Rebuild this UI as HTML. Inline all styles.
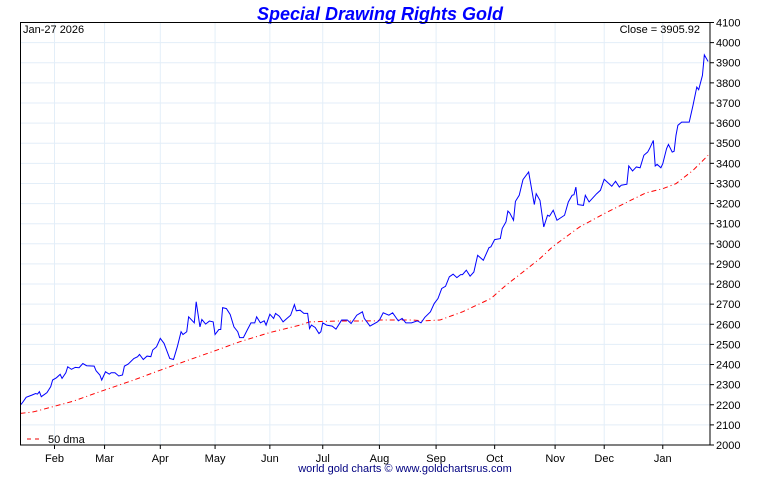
<!DOCTYPE html>
<html><head><meta charset="utf-8"><style>
body{margin:0;background:#fff;}
svg text{font-family:"Liberation Sans",sans-serif;}
</style></head><body>
<svg id="chart" width="760" height="475" xmlns="http://www.w3.org/2000/svg">
<rect width="760" height="475" fill="#fff"/>
<text x="380" y="20" text-anchor="middle" font-size="18" font-weight="bold" font-style="italic" fill="#0000ff">Special Drawing Rights Gold</text>
<g id="grid"></g>
<g id="series"></g>
<rect x="20.5" y="22.5" width="689.5" height="422.5" fill="none" stroke="#000" stroke-width="1"/>
<g id="axes"></g>
<text x="23" y="33" font-size="11" fill="#000">Jan-27  2026</text>
<text x="700" y="33" font-size="11" text-anchor="end" fill="#000">Close = 3905.92</text>
<g>
<line x1="27" y1="439" x2="42" y2="439" stroke="#e00" stroke-dasharray="4,4"/>
<text x="48" y="443" font-size="11">50 dma</text>
</g>
<text x="405" y="472" text-anchor="middle" font-size="11" fill="#000080">world gold charts © www.goldchartsrus.com</text>
</svg>
<script>
const priceDays=[0,1,3,6,8,9,10,11,14,16,17,19,21,22,24,25,27,29,31,33,35,39,40,42,43,45,47,48,50,52,54,55,57,60,62,63,65,67,69,70,72,74,76,77,79,81,83,85,86,88,89,92,93,95,96,98,100,102,103,105,106,107,109,111,113,115,116,118,120,122,124,125,127,129,130,132,134,135,137,139,141,143,145,146,148,150,152,153,154,156,158,159,160,162,165,167,170,173,175,178,181,182,185,189,
190,192,195,197,200,202,204,207,210,212,214,217,219,221,223,225,227,229,231,233,234,236,238,240,242,245,248,249,251,254,255,257,258,259,261,262,264,266,269,272,273,275,277,279,280,282,284,288,290,292,293,294,295,298,299,301,305,307,309,313,315,317,318,321,322,324,326,328,330,332,333,335,336,337,339,340,342,343,345,346,347,348,350,354,356,358,359,361,362,364];
const priceValues=[2199,2210,2237,2248,2256,2253,2265,2240,2260,2290,2323,2334,2351,2331,2359,2389,2376,2386,2384,2405,2394,2392,2369,2348,2323,2364,2352,2359,2359,2343,2348,2392,2402,2430,2439,2450,2425,2442,2439,2472,2488,2530,2505,2480,2430,2425,2488,2563,2549,2563,2637,2607,2712,2587,2624,2601,2616,2612,2549,2574,2574,2683,2678,2649,2587,2563,2534,2534,2571,2607,2607,2637,2607,2617,2596,2650,2629,2654,2640,2612,2629,2645,2698,2667,2670,2654,2654,2579,2596,2584,2554,2563,2607,2596,2591,2576,2621,2621,2604,2645,2662,2629,2591,2612,
2621,2657,2645,2657,2617,2629,2607,2607,2617,2607,2634,2662,2703,2728,2778,2789,2836,2849,2832,2847,2847,2869,2839,2860,2943,2918,2981,2985,3021,3026,3076,3109,3163,3153,3117,3211,3241,3319,3357,3195,3249,3216,3084,3142,3137,3167,3117,3142,3208,3241,3244,3282,3195,3191,3241,3208,3249,3266,3321,3286,3311,3282,3291,3296,3387,3362,3382,3378,3440,3456,3473,3514,3387,3395,3378,3398,3473,3494,3456,3460,3539,3589,3605,3605,3688,3779,3766,3837,3939,3906];
const dmaDays=[0,7,17,28,42,60,74,88,104,116,132,148,153,166,189,190,208,213,222,234,249,257,266,275,282,296,309,323,331,340,347,356,364];
const dmaValues=[2157,2165,2190,2218,2265,2323,2372,2419,2472,2513,2559,2596,2612,2616,2617,2621,2621,2617,2621,2662,2728,2794,2860,2927,2988,3084,3150,3216,3253,3274,3299,3365,3440];
const monthLabels=["Feb","Mar","Apr","May","Jun","Jul","Aug","Sep","Oct","Nov","Dec","Jan"];
const monthDays=[18,44.5,74,103,132,160,190,220,251,283,309,340];
const yTicks=[2000,2100,2200,2300,2400,2500,2600,2700,2800,2900,3000,3100,3200,3300,3400,3500,3600,3700,3800,3900,4000,4100];

const L=20.5,R=710,T=22.5,B=445,D0=0,D1=365,V0=2000,V1=4100;
const xs=d=>L+(d-D0)/(D1-D0)*(R-L);
const ys=v=>B-(v-V0)/(V1-V0)*(B-T);
const NS="http://www.w3.org/2000/svg";
function mk(tag,attrs,parent){const e=document.createElementNS(NS,tag);for(const k in attrs)e.setAttribute(k,attrs[k]);parent.appendChild(e);return e;}
const grid=document.getElementById('grid'),axes=document.getElementById('axes'),series=document.getElementById('series');
yTicks.forEach(v=>{
  const y=ys(v);
  const g=mk('line',{x1:L,x2:R,y1:y,y2:y,stroke:'#e3eef8','stroke-width':1},grid);
  
  
  const t=mk('line',{x1:R,x2:R+4,y1:y,y2:y,stroke:'#000'},axes);
  
  
  const tx=mk('text',{x:R+6,y:y+4,'font-size':11},axes);
  tx.textContent=v;
  
  
});
monthDays.forEach((d,i)=>{
  const x=xs(d);
  const g=mk('line',{x1:x,x2:x,y1:T,y2:B,stroke:'#e3eef8','stroke-width':1},grid);
  
  
  const t=mk('line',{x1:x,x2:x,y1:B,y2:B+4,stroke:'#000'},axes);
  
  
  const tx=mk('text',{x:x,y:B+17,'font-size':11,'text-anchor':'middle'},axes);
  tx.textContent=monthLabels[i];
  
  
});
const dma=mk('polyline',{points:dmaDays.map((d,i)=>xs(d)+','+ys(dmaValues[i])).join(' '),fill:'none',stroke:'#f00','stroke-width':1,'stroke-dasharray':'5,3,1,3'},series);


const pl=mk('polyline',{points:priceDays.map((d,i)=>xs(d)+','+ys(priceValues[i])).join(' '),fill:'none',stroke:'#0000ff','stroke-width':1},series);


</script>
</body></html>
